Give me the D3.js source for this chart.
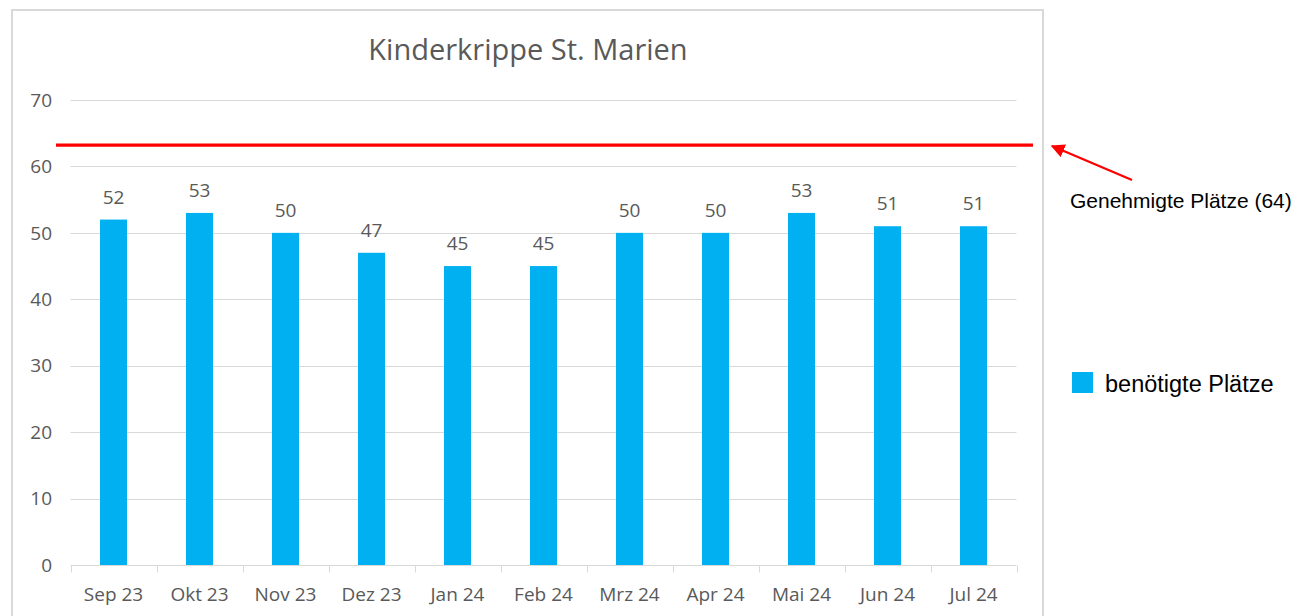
<!DOCTYPE html>
<html><head><meta charset="utf-8">
<script src="https://cdn.jsdelivr.net/npm/d3@7"></script>
<style>body{margin:0;background:#fff;} svg{display:block;}</style>
</head><body>
<svg id="c" width="1296" height="616"></svg>
<script>
const categories = ["Sep 23","Okt 23","Nov 23","Dez 23","Jan 24","Feb 24","Mrz 24","Apr 24","Mai 24","Jun 24","Jul 24"];
const values = [52,53,50,47,45,45,50,50,53,51,51];
const yTicks = [0,10,20,30,40,50,60,70];
const limitValue = 63.2; // drawn position of the red line
const title = "Kinderkrippe St. Marien";
const seriesName = "benötigte Plätze";
const limitLabel = "Genehmigte Plätze (64)";

const svg = d3.select("#c");
const font = "'Open Sans', sans-serif";
const grey = "#595959";

// chart border
svg.append("rect").attr("x",12).attr("y",10).attr("width",1031).attr("height",620)
  .attr("fill","none").attr("stroke","#d9d9d9").attr("stroke-width",2);

const x = d3.scaleBand().domain(categories).range([70.5,1016.5]).paddingInner(0.686).paddingOuter(0.343);
const xTick = d3.scaleBand().domain(categories).range([70.5,1016.5]);
const y = d3.scaleLinear().domain([0,70]).range([565,100]);

// gridlines
svg.append("g").selectAll("line").data(yTicks.filter(d=>d>0)).join("line")
  .attr("x1",70.5).attr("x2",1016.5).attr("y1",d=>Math.round(y(d))+0.5).attr("y2",d=>Math.round(y(d))+0.5)
  .attr("stroke","#d9d9d9").attr("stroke-width",1);

// y labels
svg.append("g").selectAll("text").data(yTicks).join("text")
  .attr("x",52).attr("y",d=>y(d)).attr("dy","0.35em").attr("text-anchor","end")
  .attr("font-family",font).attr("font-size",19).attr("fill",grey).text(d=>d);

// bars
svg.append("g").selectAll("rect").data(values).join("rect")
  .attr("x",(d,i)=>x(categories[i])).attr("width",x.bandwidth())
  .attr("y",d=>y(d)).attr("height",d=>y(0)-y(d)).attr("fill","#00b0f0");

// data labels
svg.append("g").selectAll("text").data(values).join("text")
  .attr("x",(d,i)=>x(categories[i])+x.bandwidth()/2).attr("y",d=>y(d)-16)
  .attr("text-anchor","middle").attr("font-family",font).attr("font-size",19).attr("fill",grey).text(d=>d);

// x axis
const xAxis = svg.append("g").attr("transform","translate(0,565.5)");
xAxis.append("line").attr("x1",70.5).attr("x2",1016.5).attr("stroke","#d9d9d9");
const tickPos = categories.map(c=>xTick(c)).concat([xTick(categories[categories.length-1])+xTick.bandwidth()]);
xAxis.selectAll("line.t").data(tickPos).join("line").attr("class","t")
  .attr("x1",d=>Math.round(d)+0.5).attr("x2",d=>Math.round(d)+0.5).attr("y1",0).attr("y2",7).attr("stroke","#d9d9d9");
xAxis.selectAll("text").data(categories).join("text")
  .attr("x",d=>xTick(d)+xTick.bandwidth()/2).attr("y",35.5)
  .attr("text-anchor","middle").attr("font-family",font).attr("font-size",19).attr("fill",grey).text(d=>d);

// title
svg.append("text").attr("x",528).attr("y",60).attr("text-anchor","middle")
  .attr("font-family",font).attr("font-size",29).attr("fill",grey).text(title);

// red limit line
svg.append("line").attr("x1",56).attr("x2",1033).attr("y1",y(limitValue)).attr("y2",y(limitValue))
  .attr("stroke","#ff0000").attr("stroke-width",3.3);

// arrow
svg.append("defs").append("marker").attr("id","ah").attr("viewBox","0 0 10 10").attr("refX",9).attr("refY",5)
  .attr("markerWidth",6).attr("markerHeight",6).attr("orient","auto").attr("markerUnits","strokeWidth")
  .append("path").attr("d","M0,0 L10,5 L0,10 z").attr("fill","#ff0000");
svg.append("line").attr("x1",1132).attr("y1",180).attr("x2",1052).attr("y2",146)
  .attr("stroke","#ff0000").attr("stroke-width",2.3).attr("marker-end","url(#ah)");

svg.append("text").attr("x",1070).attr("y",208).attr("font-family","'Liberation Sans', Arial, sans-serif")
  .attr("font-size",21).attr("fill","#000").text(limitLabel);

// legend
svg.append("rect").attr("x",1072).attr("y",372).attr("width",21).attr("height",21).attr("fill","#00b0f0");
svg.append("text").attr("x",1105).attr("y",391.5).attr("font-family","'Liberation Sans', Arial, sans-serif")
  .attr("font-size",23.5).attr("fill","#000").text(seriesName);
</script>
</body></html>
